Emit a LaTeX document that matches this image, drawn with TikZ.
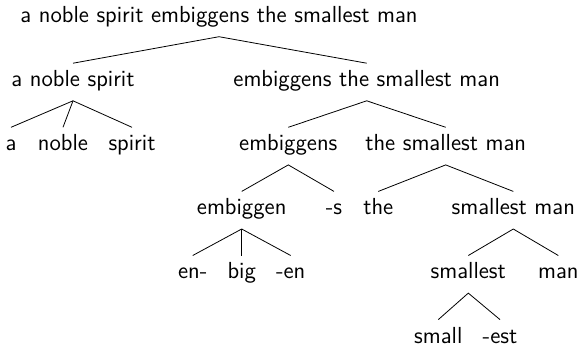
\documentclass[tikz,border=0pt]{standalone}
\tikzset{
  word/.style={font=\fontsize{11.6pt}{14pt}\sffamily, anchor=base, inner sep=0pt, text height=11.5pt, text depth=6.9pt},
}
\begin{document}
\begin{tikzpicture}[x=0.5pt, y=-0.5pt]
                \useasboundingbox (0,0) rectangle (579,345);
                \node[word] (S) at (219,22.5) {a noble spirit embiggens the smallest man};
                \node[word] (NP) at (73,86.6) {a noble spirit};
                \node[word] (VP) at (366.7,86.6) {embiggens the smallest man};
                \node[word] (a) at (11,150.7) {a};
                \node[word] (noble) at (63,150.7) {noble};
                \node[word] (spirit) at (132,150.7) {spirit};
                \node[word] (V) at (288.3,150.7) {embiggens};
                \node[word] (OBJ) at (445.7,150.7) {the smallest man};
                \node[word] (stem) at (241.7,214.8) {embiggen};
                \node[word] (s) at (334,214.8) {-s};
                \node[word] (the) at (378.3,214.8) {the};
                \node[word] (N) at (513.3,214.8) {smallest man};
                \node[word] (en1) at (192.7,278.9) {en-};
                \node[word] (big) at (241.7,278.9) {big};
                \node[word] (en2) at (290.7,278.9) {-en};
                \node[word] (ADJ) at (468.3,278.9) {smallest};
                \node[word] (man) at (558.3,278.9) {man};
                \node[word] (small) at (438.3,343) {small};
                \node[word] (est) at (500,343) {-est};
                \draw (NP.north) -- (S.south) -- (VP.north);
                \draw (a.north) -- (NP.south) -- (spirit.north);
                \draw (NP.south) -- (noble.north);
                \draw (V.north) -- (VP.south) -- (OBJ.north);
                \draw (stem.north) -- (V.south) -- (s.north);
                \draw (the.north) -- (OBJ.south) -- (N.north);
                \draw (en1.north) -- (stem.south) -- (en2.north);
                \draw (stem.south) -- (big.north);
                \draw (ADJ.north) -- (N.south) -- (man.north);
                \draw (small.north) -- (ADJ.south) -- (est.north);
            \end{tikzpicture}
\end{document}
